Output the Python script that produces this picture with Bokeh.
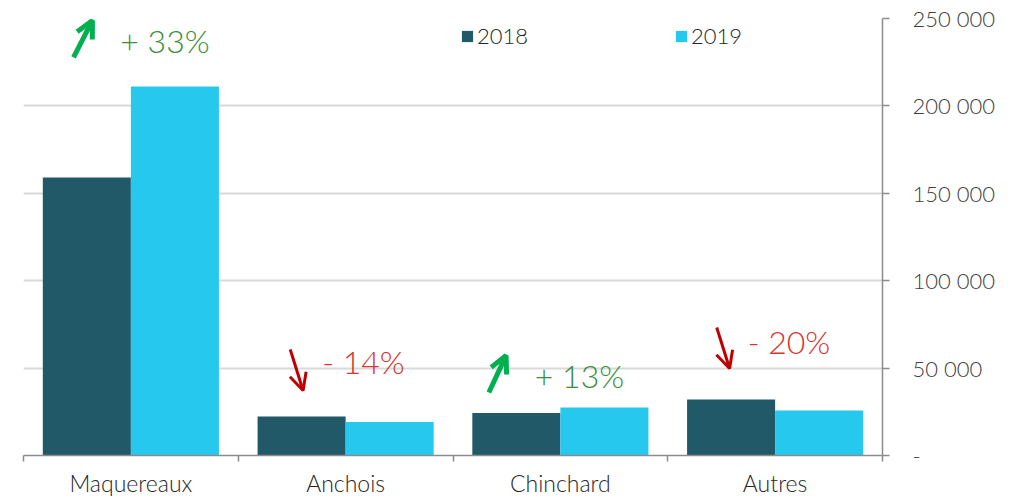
from bokeh.plotting import figure
from bokeh.models import (Range1d, FixedTicker, Arrow, OpenHead,
                          Legend, LegendItem, ColumnDataSource, Label)
from bokeh.embed import file_html
from bokeh.resources import INLINE
import numpy as np

categories = ["Maquereaux", "Anchois", "Chinchard", "Autres"]
values_2018 = [159000, 22300, 24300, 32000]
values_2019 = [211100, 19100, 27500, 25700]
changes = ["+ 33%", "- 14%", "+ 13%", "- 20%"]
y_ticks = [0, 50000, 100000, 150000, 200000, 250000]
y_tick_labels = ["-", "50 000", "100 000", "150 000", "200 000", "250 000"]

C2018 = "#215968"
C2019 = "#26C8EE"
FONT = "'Lato Light', Lato"

n = len(categories)
centers = np.arange(n) + 0.5
bw = 0.41

p = figure(frame_width=859, frame_height=437, output_backend="svg",
           toolbar_location=None, x_range=Range1d(0, n), y_range=Range1d(0, 250000),
           y_axis_location="right", x_axis_location="below",
           min_border_left=23, min_border_top=18, min_border_right=0, min_border_bottom=0)
p.outline_line_color = None
p.background_fill_color = "white"

src = ColumnDataSource(dict(x18=centers - bw / 2, x19=centers + bw / 2,
                            v18=values_2018, v19=values_2019))
r18 = p.vbar(x="x18", top="v18", width=bw, source=src, fill_color=C2018, line_color=None)
r19 = p.vbar(x="x19", top="v19", width=bw, source=src, fill_color=C2019, line_color=None)

# axes
xa = p.xaxis[0]
xa.ticker = FixedTicker(ticks=list(centers), minor_ticks=list(range(n + 1)))
xa.major_label_overrides = {float(c): cat for c, cat in zip(centers, categories)}
xa.major_tick_out = 0
xa.major_tick_in = 0
xa.minor_tick_out = 6
xa.minor_tick_in = 0
xa.minor_tick_line_color = "#8c8c8c"
xa.minor_tick_line_width = 1.5
xa.axis_line_color = "#8c8c8c"
xa.axis_line_width = 1.5
xa.major_label_standoff = 7
xa.major_label_text_font = FONT
xa.major_label_text_font_size = "23px"
xa.major_label_text_color = "#262626"

ya = p.yaxis[0]
ya.ticker = FixedTicker(ticks=y_ticks)
ya.major_label_overrides = {t: l for t, l in zip(y_ticks, y_tick_labels)}
ya.major_tick_out = 7
ya.major_tick_in = 0
ya.minor_tick_out = 0
ya.minor_tick_in = 0
ya.major_tick_line_color = "#8c8c8c"
ya.major_tick_line_width = 1.5
ya.axis_line_color = "#8c8c8c"
ya.axis_line_width = 1.5
ya.major_label_standoff = 23
ya.major_label_text_font = FONT
ya.major_label_text_font_size = "22px"
ya.major_label_text_color = "#404040"

p.xgrid.grid_line_color = None
p.ygrid.ticker = FixedTicker(ticks=y_ticks)
p.ygrid.grid_line_color = "#d9d9d9"
p.ygrid.grid_line_width = 2

# legend
legend = Legend(items=[LegendItem(label="2018", renderers=[r18]),
                       LegendItem(label="2019", renderers=[r19])],
                orientation="horizontal", location=(437, 406),
                glyph_width=14, glyph_height=14, label_standoff=3,
                label_height=20, spacing=146, padding=0, margin=0,
                border_line_color=None, background_fill_alpha=0,
                label_text_font=FONT, label_text_font_size="22px",
                label_text_color="#262626")
p.add_layout(legend, "center")

# change annotations
arrow_pos = [  # (x_start, y_start, x_end, y_end)
    (0.233, 227700, 0.321, 248900),
    (1.242, 60600, 1.302, 37200),
    (2.167, 36000, 2.247, 57200),
    (3.228, 73200, 3.288, 49800),
]
text_pos = [(0.451, 237400), (1.391, 53800), (2.381, 45800), (3.372, 65200)]
for ch, (xs, ys, xe, ye), (tx, ty) in zip(changes, arrow_pos, text_pos):
    up = ch.startswith("+")
    ac = "#00B050" if up else "#C00000"
    tc = "#3A8F3A" if up else "#D8342E"
    p.add_layout(Arrow(x_start=xs, y_start=ys, x_end=xe, y_end=ye,
                       line_color=ac, line_width=5 if up else 3,
                       end=OpenHead(size=17, line_color=ac, line_width=5 if up else 3)))
    p.add_layout(Label(x=tx, y=ty, text=ch, text_font=FONT, text_font_size="32px",
                       text_color=tc, text_baseline="middle", text_align="left"))

open("out.html", "w").write(file_html(p, INLINE))
